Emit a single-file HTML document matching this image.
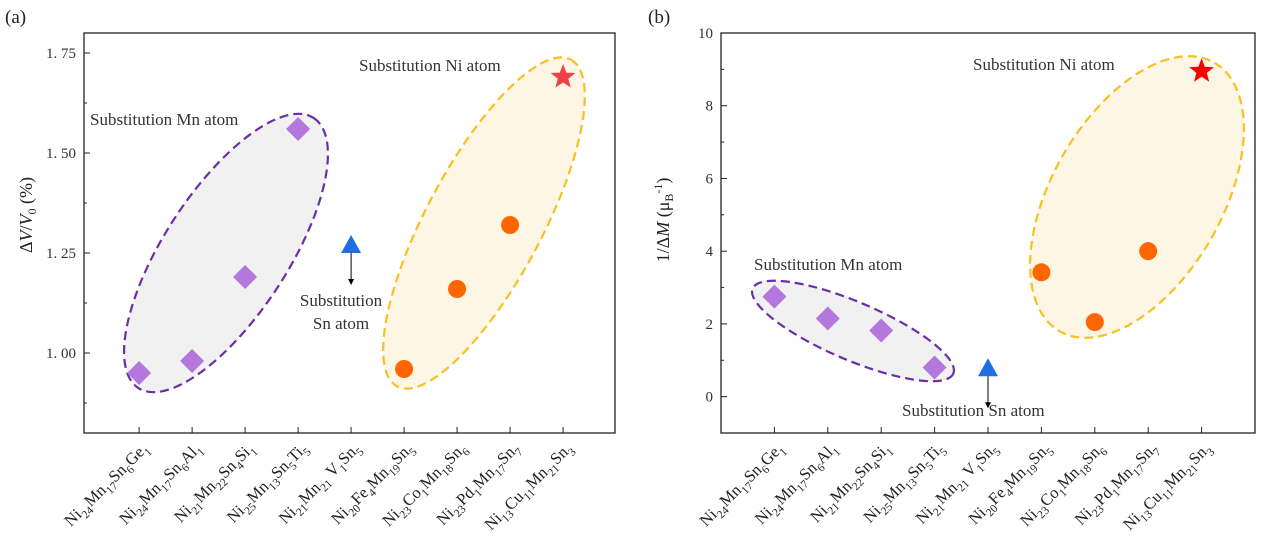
<!DOCTYPE html>
<html><head><meta charset="utf-8"><style>
body{margin:0;background:#fff}
svg{display:block;font-family:"Liberation Serif","Noto Serif CJK SC",serif}
</style></head><body>
<svg id="c" width="1264" height="539" viewBox="0 0 1264 539" xmlns="http://www.w3.org/2000/svg"></svg>
<script>
const categories=[["Ni","24","Mn","17","Sn","6","Ge","1"],["Ni","24","Mn","17","Sn","6","Al","1"],["Ni","21","Mn","22","Sn","4","Si","1"],["Ni","25","Mn","13","Sn","5","Ti","5"],["Ni","21","Mn","21"," V","1","Sn","5"],["Ni","20","Fe","4","Mn","19","Sn","5"],["Ni","23","Co","1","Mn","18","Sn","6"],["Ni","23","Pd","1","Mn","17","Sn","7"],["Ni","13","Cu","11","Mn","21","Sn","3"]];
const markerTypes=["d","d","d","d","t","o","o","o","s"];
const volumeValues=[0.95,0.98,1.19,1.56,1.27,0.96,1.16,1.32,1.69];
const magValues=[2.75,2.15,1.82,0.80,0.78,3.42,2.05,4.00,8.95];
const volTicks=[1.00,1.25,1.50,1.75];
const volTickLabels=["1. 00","1. 25","1. 50","1. 75"];
const magTicks=[0,2,4,6,8,10];
const magTickLabels=["0","2","4","6","8","10"];
const svg=document.getElementById('c');
const NS="http://www.w3.org/2000/svg";
function mk(tag,at,parent){const e=document.createElementNS(NS,tag);for(const k in at)e.setAttribute(k,at[k]);(parent||svg).appendChild(e);return e;}
const colors={d:"#b377de",t:"#1f6fe0",o:"#ff6600",s:"#f5303a"};
function panel(o){
  const g=mk('g',{});
  
  
  const L=o.L,R=o.R,T=33,B=433;
  const xs=i=>L+(i-o.xmin)/(o.xmax-o.xmin)*(R-L);
  const ys=v=>B-(v-o.ymin)/(o.ymax-o.ymin)*(B-T);
  o.ell.forEach(e=>{const el=mk('ellipse',{cx:e[0],cy:e[1],rx:e[2],ry:e[3],transform:`rotate(${e[4]} ${e[0]} ${e[1]})`,fill:e[5],stroke:e[6],'stroke-width':2.2,'stroke-dasharray':'9 5'},g);
    
    });
  const frame=mk('rect',{x:L,y:T,width:R-L,height:B-T,fill:'none',stroke:'#222','stroke-width':1.3},g);
  
  
  o.ticks.forEach((t,i)=>{const y=ys(t);mk('line',{x1:L,x2:L+6,y1:y,y2:y,stroke:'#222'},g);
    const tx=mk('text',{x:L-8,y:y+5,'text-anchor':'end','font-size':15,fill:'#333'},g);tx.textContent=o.labels[i];
    
    });
  o.minor.forEach(t=>{const y=ys(t);mk('line',{x1:L,x2:L+3,y1:y,y2:y,stroke:'#222'},g);});
  categories.forEach((c,i)=>{const x=xs(i);mk('line',{x1:x,x2:x,y1:B,y2:B-6,stroke:'#222'},g);
    const ax=x+10,ay=B+16;
    const tx=mk('text',{x:ax,y:ay,'text-anchor':'end','font-size':16.5,fill:'#222',transform:`rotate(-45 ${ax} ${ay})`},g);
    
    
    for(let k=0;k<c.length;k+=2){const a=mk('tspan',{},tx);a.textContent=c[k];const b=mk('tspan',{'font-size':11.5,dy:5},tx);b.textContent=c[k+1];const r=mk('tspan',{dy:-5},tx);r.textContent='\u200b';}
  });
  o.vals.forEach((v,i)=>{const x=xs(i),y=ys(v),t=markerTypes[i];let m;
    if(t==='d')m=mk('polygon',{points:`${x},${y-12} ${x+12},${y} ${x},${y+12} ${x-12},${y}`,fill:colors.d},g);
    else if(t==='o')m=mk('circle',{cx:x,cy:y,r:9,fill:colors.o},g);
    else if(t==='t')m=mk('polygon',{points:`${x},${y-10} ${x+10},${y+8} ${x-10},${y+8}`,fill:colors.t},g);
    else{let p=[];for(let k=0;k<10;k++){const r=k%2?5.5:13,a=-Math.PI/2+k*Math.PI/5;p.push((x+r*Math.cos(a)).toFixed(1)+','+(y+r*Math.sin(a)).toFixed(1));}m=mk('polygon',{points:p.join(' '),fill:o.star},g);}
    
    
    if(t==='t'){mk('line',{x1:x,x2:x,y1:y+8,y2:y+36,stroke:'#000','stroke-width':1},g);mk('polygon',{points:`${x-3},${y+34} ${x+3},${y+34} ${x},${y+40}`,fill:'#000'},g);}
  });
  o.notes.forEach(n=>{const tx=mk('text',{x:n[1],y:n[2],'font-size':17,fill:'#333','text-anchor':n[3]||'start'},g);tx.textContent=n[0];
    
    });
  const pl=mk('text',{x:o.px,y:23,'font-size':19,fill:'#222'},g);pl.textContent=o.tag;
  
  
  const yl=mk('text',{x:0,y:0,'font-size':18,fill:'#222','text-anchor':'middle',transform:`translate(${L-52} ${o.ytc}) rotate(-90)`},g);
  yl.innerHTML=o.ytitle;
  
  
}
panel({name:'panel-a',tag:'(a)',px:5,ytc:215,L:84,R:615,xmin:-1.04,xmax:8.98,ymin:0.8,ymax:1.8,vals:volumeValues,ticks:volTicks,labels:volTickLabels,minor:[0.875,1.125,1.375,1.625],star:'#f04048',
 ell:[[226,253,161,62,-57,'#f1f1f1','#6a2fa8'],[484,223,185,58,-62,'#fdf6e5','#f8c020']],
 notes:[["Substitution Mn atom",90,125],["Substitution Ni atom",359,71],["Substitution",341,306,'middle'],["Sn atom",341,329,'middle']],
 ytitle:'Δ<tspan font-style="italic">V</tspan>/<tspan font-style="italic">V</tspan><tspan font-size="12" dy="4">0</tspan><tspan dy="-4"> (%)</tspan>'});
panel({name:'panel-b',tag:'(b)',px:648,ytc:220,L:721,R:1255,xmin:-1.0,xmax:9.0,ymin:-1,ymax:10,vals:magValues,ticks:magTicks,labels:magTickLabels,minor:[1,3,5,7,9],star:'#ff0000',
 ell:[[853,331,109,29,23,'#f1f1f1','#6a2fa8'],[1137,197,155,85,-60,'#fdf6e5','#f8c020']],
 notes:[["Substitution Mn atom",754,270],["Substitution Ni atom",973,70],["Substitution Sn atom",902,416]],
 ytitle:'1/Δ<tspan font-style="italic">M</tspan> (μ<tspan font-size="12" dy="4">B</tspan><tspan font-size="12" dy="-11">-1</tspan><tspan dy="7">)</tspan>'});
</script>
</body></html>
